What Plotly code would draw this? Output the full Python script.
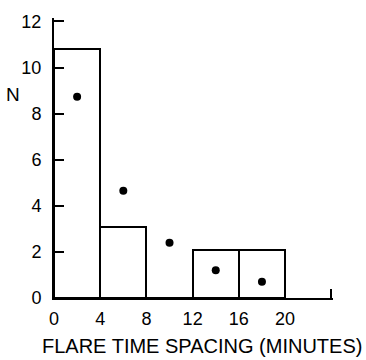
import plotly.graph_objects as go

# histogram bins (minutes) and counts
bin_centers = [2, 6, 10, 14, 18]
bin_counts = [10.8, 3.1, 0.0, 2.1, 2.1]
bin_width = 4

# dot values
dot_x = [2, 6, 10, 14, 18]
dot_y = [8.73, 4.65, 2.4, 1.2, 0.7]

x_ticks = [0, 4, 8, 12, 16, 20, 24]
x_ticktext = ["0", "4", "8", "12", "16", "20", ""]
y_ticks = [0, 2, 4, 6, 8, 10, 12]

font = "Liberation Sans"

fig = go.Figure()
fig.add_trace(go.Bar(
    x=bin_centers, y=bin_counts, width=bin_width,
    marker=dict(color="rgba(0,0,0,0)", line=dict(color="black", width=2)),
    showlegend=False, hoverinfo="skip",
))
fig.add_trace(go.Scatter(
    x=dot_x, y=dot_y, mode="markers",
    marker=dict(color="black", size=8),
    showlegend=False,
))

fig.update_layout(
    width=366, height=360,
    margin=dict(l=54, r=33, t=16, b=62),
    paper_bgcolor="white", plot_bgcolor="white",
    font=dict(family=font, color="black", size=18),
    bargap=0,
    xaxis=dict(
        range=[0, 24.15], tickvals=x_ticks, ticktext=x_ticktext,
        showline=True, linecolor="black", linewidth=2,
        ticks="inside", ticklen=9, tickwidth=2, tickcolor="black",
        showgrid=False, zeroline=False, ticklabelstandoff=3,
        layer="above traces",
    ),
    yaxis=dict(
        range=[0, 12.15], tickvals=y_ticks,
        showline=True, linecolor="black", linewidth=2,
        ticks="inside", ticklen=10, tickwidth=2, tickcolor="black",
        showgrid=False, zeroline=False, ticklabelstandoff=7,
        layer="above traces",
    ),
    annotations=[
        dict(
            text="N", xref="paper", yref="y", x=-41/279, y=8.85,
            xanchor="center", yanchor="middle", showarrow=False,
            font=dict(size=19),
        ),
        dict(
            text="FLARE TIME SPACING (MINUTES)", xref="paper", yref="paper",
            x=(201.5 - 54) / 279, y=-(346 - 298) / 282,
            xanchor="center", yanchor="middle", showarrow=False,
            font=dict(size=20),
        ),
    ],
)

fig.write_html("out.html")
